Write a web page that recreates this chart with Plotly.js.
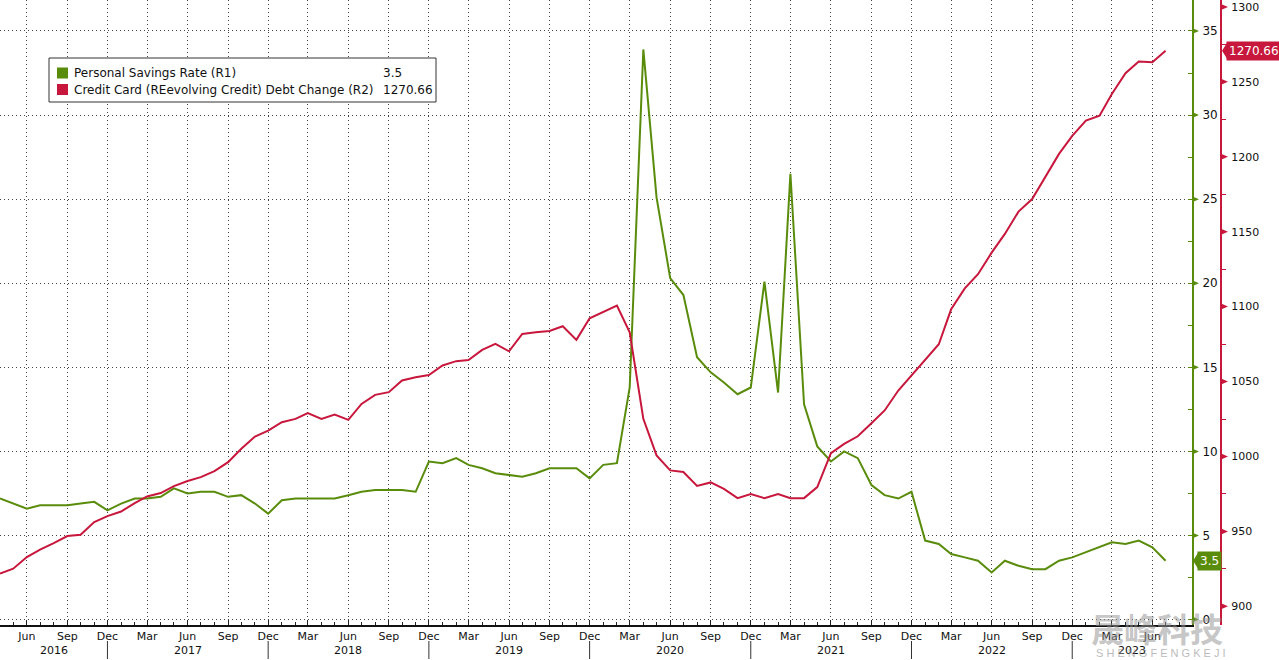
<!DOCTYPE html>
<html><head><meta charset="utf-8">
<script src="https://cdn.plot.ly/plotly-3.0.1.min.js"></script>
<style>html,body{margin:0;padding:0;background:#fff;} #chart{width:1279px;height:660px;}</style>
</head><body><div id="chart"></div>
<script>
// ---------- data ----------
const firstYear = 2016, firstMonth = 4;   // first observation: Apr 2016 (monthly)
const savingsRate = [
  7.2, 6.9, 6.6, 6.8, 6.8, 6.8, 6.9, 7.0, 6.5,                 // 2016 Apr-Dec
  6.9, 7.2, 7.2, 7.3, 7.8, 7.5, 7.6, 7.6, 7.3, 7.4, 6.9, 6.3,   // 2017
  7.1, 7.2, 7.2, 7.2, 7.2, 7.4, 7.6, 7.7, 7.7, 7.7, 7.6, 9.4,   // 2018
  9.3, 9.6, 9.2, 9.0, 8.7, 8.6, 8.5, 8.7, 9.0, 9.0, 9.0, 8.4,   // 2019
  9.2, 9.3, 13.8, 33.9, 25.1, 20.3, 19.3, 15.6, 14.7, 14.1, 13.4, 13.8, // 2020
  20.1, 13.5, 26.5, 12.8, 10.3, 9.4, 10.0, 9.6, 8.0, 7.4, 7.2, 7.6,    // 2021
  4.7, 4.5, 3.9, 3.7, 3.5, 2.8, 3.5, 3.2, 3.0, 3.0, 3.5, 3.7,   // 2022
  4.0, 4.3, 4.6, 4.5, 4.7, 4.3, 3.5                             // 2023 Jan-Jul
];
const creditDebt = [
  921.8, 925.1, 932.9, 937.8, 942.2, 946.9, 947.8, 956.2, 960.2,
  963.3, 968.9, 973.3, 975.6, 980.2, 983.6, 986.2, 990.2, 996.2, 1005.1, 1013.3, 1017.3,
  1022.9, 1025.1, 1028.9, 1025.1, 1028.0, 1024.4, 1035.1, 1041.1, 1042.9, 1050.7, 1052.9, 1054.4,
  1060.7, 1063.6, 1064.4, 1071.1, 1075.1, 1070.2, 1081.8, 1082.9, 1083.8, 1086.9, 1077.8, 1092.2,
  1096.2, 1100.7, 1082.9, 1025.1, 1000.7, 990.7, 989.6, 980.4, 982.7, 978.4, 972.2, 974.9,
  972.2, 974.9, 972.2, 972.2, 979.6, 1002.2, 1008.4, 1013.5, 1022.2, 1030.7, 1044.0, 1054.0,
  1064.4, 1074.9, 1098.2, 1112.2, 1121.6, 1136.0, 1148.5, 1163.4, 1171.8, 1186.7, 1201.9, 1213.9,
  1224.1, 1227.4, 1241.9, 1255.7, 1263.5, 1263.1, 1270.66
];
const seriesNames = ['Personal Savings Rate (R1)', 'Credit Card (REevolving Credit) Debt Change (R2)'];
const lastValueLabels = ['3.5', '1270.66'];
const monthNames = ['Jan','Feb','Mar','Apr','May','Jun','Jul','Aug','Sep','Oct','Nov','Dec'];
const yearLabels = ['2016','2017','2018','2019','2020','2021','2022','2023'];
const r1Ticks = [0, 5, 10, 15, 20, 25, 30, 35];
const r2Ticks = [900, 950, 1000, 1050, 1100, 1150, 1200, 1250, 1300];

// ---------- styling / geometry ----------
const W = 1279, H = 660, PLOT_R = 1192, PLOT_B = 625, AX2 = 1221;
const GREEN = '#5a8c0c', RED = '#c8173c';
const FONT = 'DejaVu Sans, Verdana, sans-serif';
const FS = 11;
const px = x => x / W;
const py = y => (PLOT_B - y) / PLOT_B;
const pad = n => (n < 10 ? '0' : '') + n;
const ym = (y, m) => { const t = y * 12 + (m - 1); return `${Math.floor(t / 12)}-${pad(t % 12 + 1)}-01`; };

const dates = savingsRate.map((_, i) => ym(firstYear, firstMonth + i));

// quarterly ticks (Jun, Sep, Dec, Mar)
const tickvals = [], ticktext = [];
for (let i = 0; i < dates.length; i++) {
  const m = +dates[i].slice(5, 7);
  if (m % 3 === 0) { tickvals.push(dates[i]); ticktext.push(monthNames[m - 1]); }
}
const R1 = [-0.32, 36.84], R2 = [887.55, 1304.6];
const xRange = ['2016-04-01', '2023-08-30'];

const traces = [
  { x: dates, y: savingsRate, name: seriesNames[0], type: 'scatter', mode: 'lines',
    line: { color: GREEN, width: 2 }, yaxis: 'y', hoverinfo: 'x+y' },
  { x: dates, y: creditDebt, name: seriesNames[1], type: 'scatter', mode: 'lines',
    line: { color: RED, width: 2 }, yaxis: 'y2', hoverinfo: 'x+y' }
];

const shapes = [], annotations = [];

// year separators and year labels
const sepDates = yearLabels.slice(0, -1).map(y => `${y}-12-01`);
const bounds = [xRange[0], ...sepDates, xRange[1]];
sepDates.forEach(d => shapes.push({ type: 'line', xref: 'x', yref: 'paper', x0: d, x1: d,
  y0: py(641), y1: py(659), line: { color: '#333', width: 1 } }));
yearLabels.forEach((y, i) => {
  const a = new Date(bounds[i]).getTime(), b = new Date(bounds[i + 1]).getTime();
  annotations.push({ xref: 'x', yref: 'paper', x: new Date((a + b) / 2).toISOString().slice(0, 10),
    y: py(650), text: y, showarrow: false, xanchor: 'center', yanchor: 'middle',
    font: { family: FONT, size: FS, color: '#111' } });
});

// axis tick triangles
const r1PerPx = (R1[1] - R1[0]) / PLOT_B, r2PerPx = (R2[1] - R2[0]) / PLOT_B;
r1Ticks.forEach(v => shapes.push({ type: 'path', xref: 'paper', yref: 'y',
  path: `M ${px(PLOT_R)},${v + 3 * r1PerPx} L ${px(PLOT_R + 7)},${v} L ${px(PLOT_R)},${v - 3 * r1PerPx} Z`,
  fillcolor: GREEN, line: { width: 0 } }));
r2Ticks.forEach(v => shapes.push({ type: 'path', xref: 'paper', yref: 'y2',
  path: `M ${px(AX2)},${v + 3 * r2PerPx} L ${px(AX2 + 7)},${v} L ${px(AX2)},${v - 3 * r2PerPx} Z`,
  fillcolor: RED, line: { width: 0 } }));

// last value tags
const lastVals = [savingsRate[savingsRate.length - 1], creditDebt[creditDebt.length - 1]];
[[PLOT_R, 'y', r1PerPx, GREEN], [AX2, 'y2', r2PerPx, RED]].forEach(([ax, yref, k, col], i) => {
  const v = lastVals[i];
  shapes.push({ type: 'path', xref: 'paper', yref: yref,
    path: `M ${px(ax + 1)},${v} L ${px(ax + 6)},${v + 8 * k} L ${px(ax + 6)},${v - 8 * k} Z`,
    fillcolor: col, line: { width: 0 } });
  annotations.push({ xref: 'paper', yref: yref, x: px(ax + 5), y: v, text: lastValueLabels[i],
    showarrow: false, xanchor: 'left', yanchor: 'middle', bgcolor: col, borderpad: 2,
    font: { family: FONT, size: FS + 1, color: '#fff' } });
});

// custom legend box
shapes.push({ type: 'rect', xref: 'paper', yref: 'paper', x0: px(49), x1: px(436), y0: py(58), y1: py(102),
  fillcolor: '#fff', line: { color: '#333', width: 1 } });
[GREEN, RED].forEach((c, i) => {
  const yc = 73 + i * 16.5;
  shapes.push({ type: 'rect', xref: 'paper', yref: 'paper', x0: px(57), x1: px(68),
    y0: py(yc - 5.5), y1: py(yc + 5.5), fillcolor: c, line: { width: 0 } });
  annotations.push({ xref: 'paper', yref: 'paper', x: px(72), y: py(yc), text: seriesNames[i],
    showarrow: false, xanchor: 'left', yanchor: 'middle', font: { family: FONT, size: 12, color: '#111' } });
  annotations.push({ xref: 'paper', yref: 'paper', x: px(381), y: py(yc), text: lastValueLabels[i],
    showarrow: false, xanchor: 'left', yanchor: 'middle', font: { family: FONT, size: 12, color: '#111' } });
});

// watermark
annotations.push({ xref: 'paper', yref: 'paper', x: px(1157), y: py(628), text: '<b>晟峰科技</b>', showarrow: false,
  xanchor: 'center', yanchor: 'middle', font: { family: 'Noto Sans CJK SC', size: 33, color: 'rgba(150,150,150,0.55)' } });
annotations.push({ xref: 'paper', yref: 'paper', x: px(1161), y: py(653), text: 'S H E N G F E N G K E J I', showarrow: false,
  xanchor: 'center', yanchor: 'middle', font: { family: 'Liberation Sans, Arial, sans-serif', size: 11, color: 'rgba(140,140,140,0.6)' } });

const gridStyle = { showgrid: true, gridcolor: '#444', gridwidth: 1, griddash: '1px,3px' };

const layout = {
  width: W, height: H,
  margin: { l: 0, r: 0, t: 0, b: H - PLOT_B, pad: 0 },
  paper_bgcolor: '#fff', plot_bgcolor: '#fff',
  showlegend: false,
  font: { family: FONT, size: FS, color: '#111' },
  xaxis: Object.assign({}, gridStyle, {
    type: 'date', domain: [0, PLOT_R / W], range: xRange,
    tickmode: 'array', tickvals: tickvals, ticktext: ticktext,
    ticks: 'inside', ticklen: 5, tickcolor: '#222', tickwidth: 1,
    minor: { dtick: 'M1', tick0: '2016-01-01', ticks: 'inside', ticklen: 3, tickcolor: '#222', showgrid: false },
    showline: true, linecolor: '#111', linewidth: 2, zeroline: false,
    tickfont: { family: FONT, size: FS, color: '#111' }, automargin: false
  }),
  yaxis: Object.assign({}, gridStyle, {
    side: 'right', anchor: 'x', range: R1, tickvals: r1Ticks, tickmode: 'array',
    ticks: 'outside', ticklen: 6, tickcolor: 'rgba(0,0,0,0)',
    minor: { dtick: 2.5, tick0: 0, ticks: 'inside', ticklen: 4, tickcolor: GREEN, showgrid: false },
    showline: true, linecolor: GREEN, linewidth: 2, zeroline: false,
    tickfont: { family: FONT, size: FS + 1, color: '#111' }, automargin: false
  }),
  yaxis2: {
    overlaying: 'y', side: 'right', anchor: 'free', position: AX2 / W, range: R2,
    tickvals: r2Ticks, tickmode: 'array', showgrid: false, zeroline: false,
    ticks: 'outside', ticklen: 7, tickcolor: 'rgba(0,0,0,0)',
    minor: { dtick: 25, tick0: 900, ticks: 'outside', ticklen: 4, tickcolor: RED, showgrid: false },
    showline: true, linecolor: RED, linewidth: 2,
    tickfont: { family: FONT, size: FS, color: '#111' }, automargin: false
  },
  shapes: shapes,
  annotations: annotations
};

Plotly.newPlot('chart', traces, layout, { displayModeBar: false, staticPlot: true });
</script>
</body></html>
